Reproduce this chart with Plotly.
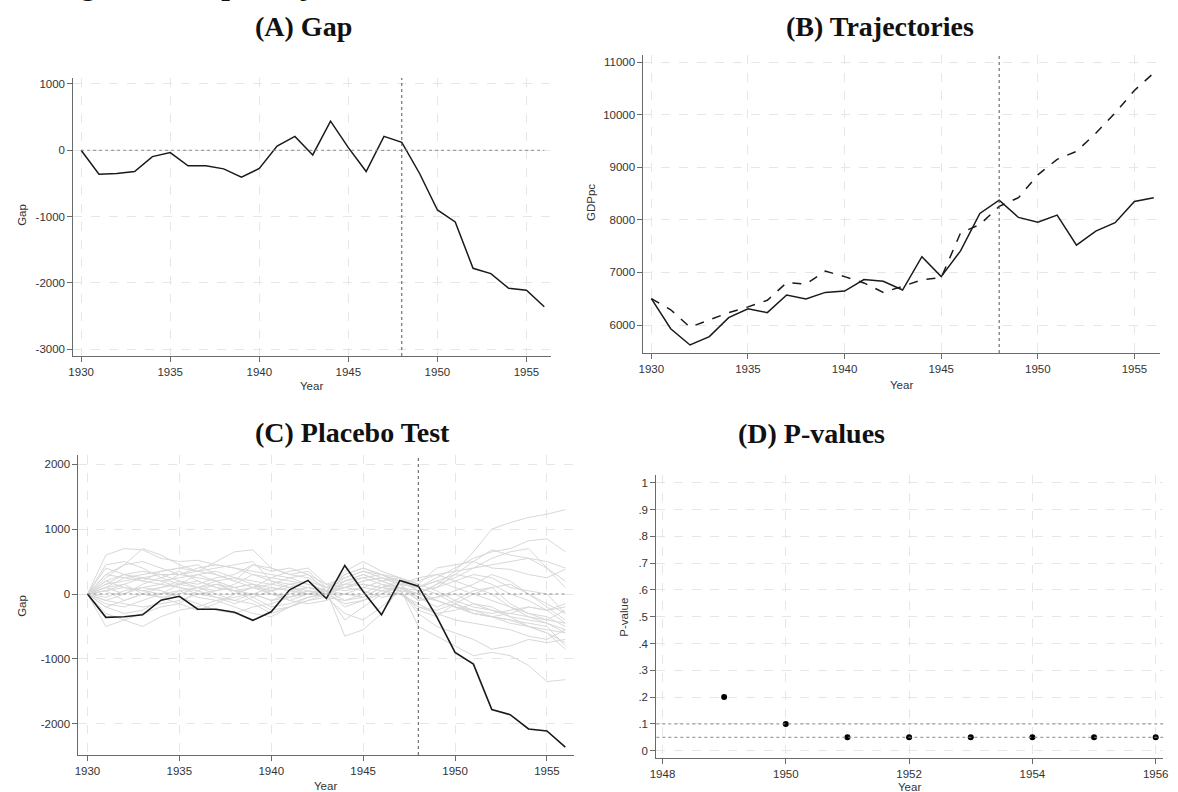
import plotly.graph_objects as go

W, H = 1178, 792

years = [1930, 1931, 1932, 1933, 1934, 1935, 1936, 1937, 1938, 1939, 1940, 1941, 1942,
         1943, 1944, 1945, 1946, 1947, 1948, 1949, 1950, 1951, 1952, 1953, 1954, 1955, 1956]

gap = [0, -360, -350, -320, -95, -35, -235, -235, -280, -405, -275, 65, 210, -70, 440, 40,
       -320, 210, 120, -350, -900, -1080, -1780, -1860, -2080, -2110, -2360]

actual = [6500, 5930, 5620, 5780, 6140, 6310, 6235, 6570, 6495, 6620, 6645, 6865, 6830, 6665,
          7300, 6920, 7410, 8120, 8375, 8045, 7955, 8090, 7520, 7785, 7945, 8350, 8420]

synthetic = [6500, 6290, 5960, 6100, 6235, 6345, 6470, 6805, 6780, 7025, 6920, 6800, 6620, 6735,
             6860, 6900, 7750, 7910, 8255, 8420, 8855, 9150, 9300, 9645, 10030, 10460, 10790]

placebos = [
    [0, 150, 300, 250, 200, 250, 300, 200, 100, 150, 50, 100, 50, 0, 100, 150, 100, 50, 0, 150, 350, 650, 1000, 1100, 1180, 1230, 1300],
    [0, 600, 700, 680, 550, 500, 520, 450, 400, 300, 250, 200, 150, 50, 250, 350, 250, 150, 100, 250, 400, 550, 650, 700, 820, 850, 650],
    [0, 300, 450, 700, 600, 450, 350, 500, 650, 680, 400, 300, 350, 100, 200, 300, 200, 100, 50, 100, 300, 500, 680, 600, 550, 400, 100],
    [0, -500, -400, -500, -350, -250, -200, -100, -50, 0, -100, -50, 0, 50, -650, -550, -300, 100, -500, -650, -800, -950, -900, -950, -1100, -1350, -1320],
    [0, -200, -300, -250, -100, 50, 100, 0, -100, -150, -300, -200, -100, -50, -300, -400, -200, 50, -200, -250, -150, -300, -350, -400, -500, -600, -850],
    [0, 200, 300, 200, 350, 400, 450, 300, 200, 450, 350, 400, 300, 50, 350, 500, 350, 250, 150, 400, 450, 500, 400, 380, 300, 250, 380],
    [0, 100, 0, 150, 250, 350, 200, 100, 50, -100, -250, -200, -50, 0, 200, 300, 200, 100, -50, -100, -200, -300, -350, -400, -450, -500, -800],
    [0, 250, 450, 500, 400, 300, 250, 200, 0, 100, 150, 100, 200, 0, -400, -200, 0, 150, -100, -50, 0, -150, -250, -300, -200, -250, -150],
    [0, 50, 100, 50, 0, 150, 300, 350, 250, 150, 0, -100, 0, 50, 100, 200, 250, 200, 50, 100, 200, 300, 250, 100, 50, 0, -300],
    [0, -100, 0, 100, 150, 100, 0, -50, -150, -50, 50, 150, 200, 100, 150, 250, 300, 150, -50, -200, -100, 50, 100, 150, 0, -200, -400],
    [0, -300, -400, -300, -200, -150, 50, 150, 100, -50, -200, -150, -50, 0, 200, 250, 150, 50, -250, -350, -150, 0, 100, -150, -300, -350, -500],
    [0, 400, 300, 350, 300, 200, 150, 250, 300, 450, 400, 300, 250, 100, 50, 100, 200, 250, 150, 50, -100, -200, -250, -350, -400, -450, -600],
    [0, 50, -100, 0, 100, 200, 100, 150, 50, 0, -100, 0, 100, 50, -200, -100, 0, 100, 0, 150, 250, 400, 550, 650, 700, 400, 200],
    [0, 150, 200, 250, 300, 300, 350, 400, 450, 500, 200, 150, 100, 50, 0, -50, 100, 200, 50, -100, -200, -250, -300, -250, -200, -250, -200],
    [0, -150, -200, -100, 0, 50, -50, -100, -200, -300, -350, -200, -100, 0, 150, 150, 100, 50, -300, -500, -600, -700, -850, -800, -700, -750, -700],
    [0, 100, 150, 0, -50, 0, 100, 200, 250, 200, 150, 250, 300, 150, 250, 350, 300, 200, 200, 300, 350, 400, 450, 500, 550, 500, 400],
    [0, 300, 250, 200, 150, 300, 400, 450, 400, 350, 300, 250, 150, 50, -100, 0, 150, 100, 0, -100, -200, -300, -350, -300, -350, -450, -550],
    [0, -50, 50, 100, 50, -50, -150, -250, -300, -200, -150, -50, 50, 0, 100, 50, -50, 0, -150, -300, -250, -150, -200, -350, -500, -550, -600],
    [0, 200, 100, 50, 100, 150, 200, 100, 50, 100, 0, -50, 50, 0, 300, 400, 300, 250, 100, 200, 100, 0, -100, -200, -300, -400, -450],
    [0, 50, 150, 250, 200, 100, 50, -50, -100, 0, 100, 50, 0, -50, -100, -50, 100, 150, 250, 300, 200, 100, 0, -200, -350, -400, -250],
    [0, 450, 500, 400, 250, 150, 100, 50, 150, 300, 200, 100, 0, 100, 300, 400, 300, 200, 100, 0, -150, -250, -350, -450, -500, -600, -750],
    [0, -100, -150, -200, -150, -100, 0, 50, 100, 150, 100, 50, 100, 0, -150, -100, 50, 100, -100, -50, 50, 150, 300, 200, 0, -150, -300],
    [0, 100, 250, 300, 350, 400, 350, 300, 200, 100, 250, 350, 400, 150, 100, 200, 250, 150, 100, 200, 300, 250, 150, 0, -100, -250, -450],
    [0, -200, -100, 0, -50, -150, -250, -150, 0, 100, 50, -100, -150, -100, 0, 100, 50, 0, -200, -300, -400, -450, -500, -550, -650, -700, -550],
]

p_years = [1949, 1950, 1951, 1952, 1953, 1954, 1955, 1956]
p_values = [0.2, 0.1, 0.05, 0.05, 0.05, 0.05, 0.05, 0.05]

treat_year = 1948
panel_titles = ["(A) Gap", "(B) Trajectories", "(C) Placebo Test", "(D) P-values"]
caption = "Figure 3: Gap, Trajectories, Placebo Test, and P-values"

x_ticks_main = [1930, 1935, 1940, 1945, 1950, 1955]
gap_ticks_a = [-3000, -2000, -1000, 0, 1000]
gdp_ticks = [6000, 7000, 8000, 9000, 10000, 11000]
gap_ticks_c = [-2000, -1000, 0, 1000, 2000]
p_xticks = [1948, 1950, 1952, 1954, 1956]
p_yticks = [0, 0.1, 0.2, 0.3, 0.4, 0.5, 0.6, 0.7, 0.8, 0.9, 1.0]
p_ylabels = ["0", ".1", ".2", ".3", ".4", ".5", ".6", ".7", ".8", ".9", "1"]

# ---------------------------------------------------------------- layout helpers
def xd(l, r):
    return [l / W, r / W]

def yd(b, t):
    return [1 - b / H, 1 - t / H]

def lbl(vals):
    return [str(v) for v in vals]

SANS = "Liberation Sans, Arial, sans-serif"
SERIF = "Liberation Serif, Times New Roman, serif"
AXC = "#6a6a6a"
GRID = "#e6e6e6"
TICKFONT = 11.5

def axis(**kw):
    d = dict(showline=True, linecolor=AXC, linewidth=1, ticks="outside", ticklen=5,
             tickcolor=AXC, tickwidth=1,
             tickfont=dict(family=SANS, size=TICKFONT, color="#333333"),
             showgrid=True, gridcolor=GRID, griddash="dash", gridwidth=1,
             zeroline=False, mirror=False)
    d.update(kw)
    return d

fig = go.Figure()

# Panel A
fig.add_trace(go.Scatter(x=years, y=gap, mode="lines", line=dict(color="#1a1a1a", width=1.5),
                         xaxis="x", yaxis="y"))
# Panel B
fig.add_trace(go.Scatter(x=years, y=actual, mode="lines", line=dict(color="#1a1a1a", width=1.5),
                         xaxis="x2", yaxis="y2"))
fig.add_trace(go.Scatter(x=years, y=synthetic, mode="lines",
                         line=dict(color="#1a1a1a", width=1.5, dash="dash"),
                         xaxis="x2", yaxis="y2"))
# Panel C
for p in placebos:
    fig.add_trace(go.Scatter(x=years, y=p, mode="lines", line=dict(color="#d8d8d8", width=1),
                             xaxis="x3", yaxis="y3"))
fig.add_trace(go.Scatter(x=years, y=gap, mode="lines", line=dict(color="#1a1a1a", width=1.6),
                         xaxis="x3", yaxis="y3"))
# Panel D
fig.add_trace(go.Scatter(x=p_years, y=p_values, mode="markers",
                         marker=dict(color="#000000", size=6), xaxis="x4", yaxis="y4"))

fig.update_layout(
    width=W, height=H, margin=dict(l=0, r=0, t=0, b=0),
    paper_bgcolor="white", plot_bgcolor="white", showlegend=False,
    xaxis=axis(domain=xd(67, 549.3), range=[1929.56, 1956.36],
               tickvals=x_ticks_main, ticktext=lbl(x_ticks_main), anchor="y"),
    yaxis=axis(domain=yd(356, 78), range=[-3102, 1090],
               tickvals=gap_ticks_a, ticktext=lbl(gap_ticks_a), anchor="x"),
    xaxis2=axis(domain=xd(643, 1165), range=[1929.59, 1956.33],
                tickvals=x_ticks_main, ticktext=lbl(x_ticks_main), anchor="y2"),
    yaxis2=axis(domain=yd(353, 55), range=[5468, 11133],
                tickvals=gdp_ticks, ticktext=lbl(gdp_ticks), anchor="x2"),
    xaxis3=axis(domain=xd(72.2, 572.6), range=[1929.51, 1956.46],
                tickvals=x_ticks_main, ticktext=lbl(x_ticks_main), anchor="y3"),
    yaxis3=axis(domain=yd(755, 455), range=[-2481, 2142],
                tickvals=gap_ticks_c, ticktext=lbl(gap_ticks_c), anchor="x3"),
    xaxis4=axis(domain=xd(656, 1168), range=[1947.9, 1956.12],
                tickvals=p_xticks, ticktext=lbl(p_xticks), anchor="y4"),
    yaxis4=axis(domain=yd(758.3, 475), range=[-0.0284, 1.029],
                tickvals=p_yticks, ticktext=p_ylabels, anchor="x4"),
)

# reference lines
dot = dict(color="#555555", width=1, dash="dot")
shapes = []
for xa, ya in [("x", "y"), ("x2", "y2"), ("x3", "y3")]:
    shapes.append(dict(type="line", xref=xa, yref=ya + " domain", x0=treat_year, x1=treat_year,
                       y0=0, y1=1, line=dot))
for xa, ya in [("x", "y"), ("x3", "y3")]:
    shapes.append(dict(type="line", xref=xa, yref=ya, x0=years[0], x1=years[-1], y0=0, y1=0,
                       line=dict(color="#888888", width=1, dash="dot")))
for lvl in [0.1, 0.05]:
    shapes.append(dict(type="line", xref="x4 domain", yref="y4", x0=0, x1=1, y0=lvl, y1=lvl,
                       line=dict(color="#888888", width=1, dash="dot")))
fig.update_layout(shapes=shapes)

# annotations (titles & axis titles)
def px(x, y):
    return x / W, 1 - y / H

ann = []
def add_text(text, x, y, size, family, bold=False, angle=0, xanchor="center", yanchor="middle", color="#222222"):
    ax_, ay_ = px(x, y)
    ann.append(dict(text=f"<b>{text}</b>" if bold else text, x=ax_, y=ay_, xref="paper", yref="paper",
                    showarrow=False, xanchor=xanchor, yanchor=yanchor, textangle=angle,
                    font=dict(family=family, size=size, color=color)))

add_text(caption, 44, 3, 31, SERIF, bold=True, xanchor="left", yanchor="bottom", color="#111111")
add_text(panel_titles[0], 300, 44, 28, SERIF, bold=True, yanchor="bottom", color="#111111")
add_text(panel_titles[1], 882, 44, 28, SERIF, bold=True, yanchor="bottom", color="#111111")
add_text(panel_titles[2], 349, 450, 28, SERIF, bold=True, yanchor="bottom", color="#111111")
add_text(panel_titles[3], 813, 451, 28, SERIF, bold=True, yanchor="bottom", color="#111111")

add_text("Gap", 15, 215, 11.5, SANS, angle=-90, color="#333333")
add_text("Year", 308, 386, 11.5, SANS, color="#333333")
add_text("GDPpc", 590, 202, 11.5, SANS, angle=-90, color="#333333")
add_text("Year", 904, 385, 11.5, SANS, color="#333333")
add_text("Gap", 15, 606, 11.5, SANS, angle=-90, color="#333333")
add_text("Year", 322, 786, 11.5, SANS, color="#333333")
add_text("P-value", 623, 617, 11.5, SANS, angle=-90, color="#333333")
add_text("Year", 912, 787, 11.5, SANS, color="#333333")

fig.update_layout(annotations=ann)

fig.write_html("out.html")
